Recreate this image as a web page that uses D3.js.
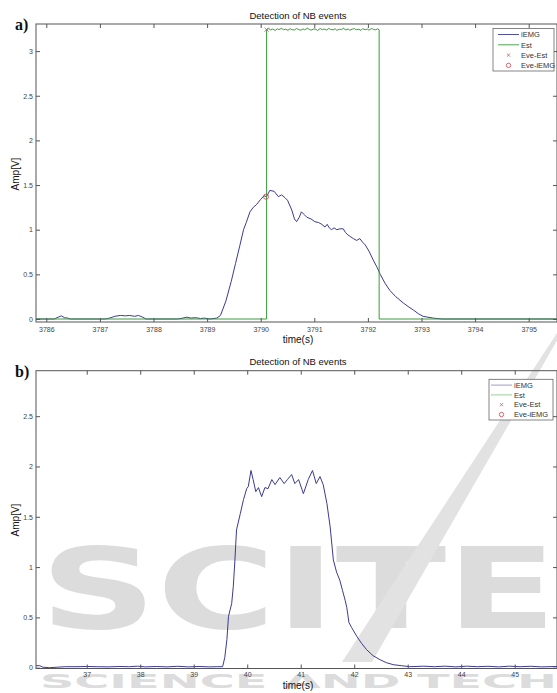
<!DOCTYPE html>
<html>
<head>
<meta charset="utf-8">
<script src="https://cdn.jsdelivr.net/npm/d3@7"></script>
<style>
  html, body { margin: 0; padding: 0; background: #fff; }
  svg { display: block; font-family: "Liberation Sans", Arial, sans-serif; }
</style>
</head>
<body>
<div id="chart"></div>
<script>
// ---- panel a) data ----
const aTime = [3785.81, 3786.15, 3786.22, 3786.28, 3786.34, 3786.40, 3786.45, 3787.10, 3787.18, 3787.28,
  3787.38, 3787.48, 3787.55, 3787.65, 3787.72, 3787.80, 3787.86, 3788.45, 3788.55, 3788.62,
  3788.70, 3788.78, 3788.88, 3788.95, 3789.05, 3789.18, 3789.25, 3789.35, 3789.45, 3789.53,
  3789.61, 3789.68, 3789.73, 3789.80, 3789.86, 3789.92, 3790.00, 3790.06, 3790.11, 3790.17,
  3790.25, 3790.33, 3790.39, 3790.45, 3790.50, 3790.58, 3790.63, 3790.67, 3790.72, 3790.76,
  3790.81, 3790.86, 3790.94, 3791.01, 3791.08, 3791.14, 3791.20, 3791.24, 3791.28, 3791.32,
  3791.37, 3791.42, 3791.48, 3791.54, 3791.58, 3791.63, 3791.68, 3791.73, 3791.79, 3791.85,
  3791.90, 3791.95, 3792.02, 3792.10, 3792.17, 3792.23, 3792.32, 3792.41, 3792.52, 3792.66,
  3792.75, 3792.85, 3792.94, 3793.03, 3793.12, 3793.22, 3793.38, 3795.53];
const aEMG = [0, 0, 0.02, 0.035, 0.015, 0.01, 0, 0, 0.01, 0.03,
  0.04, 0.035, 0.04, 0.03, 0.04, 0.02, 0, 0, 0.01, 0.02,
  0.01, 0.015, 0.005, 0.01, 0, 0.01, 0.04, 0.2, 0.42, 0.62,
  0.82, 1.0, 1.08, 1.2, 1.25, 1.28, 1.34, 1.38, 1.37, 1.44,
  1.43, 1.37, 1.39, 1.36, 1.33, 1.22, 1.12, 1.09, 1.14, 1.2,
  1.17, 1.14, 1.12, 1.09, 1.08, 1.06, 1.03, 1.06, 1.02, 1.0,
  1.02, 1.0, 1.01, 1.01, 0.97, 0.94, 0.92, 0.9, 0.88, 0.9,
  0.86, 0.83, 0.76, 0.66, 0.58, 0.5, 0.4, 0.32, 0.25, 0.18,
  0.14, 0.1, 0.06, 0.03, 0.02, 0.01, 0, 0];

const aEstTime = [3785.81, 3790.11, 3790.11, 3790.15, 3790.19, 3790.22, 3790.27, 3790.31, 3790.34, 3790.39,
  3790.43, 3790.46, 3790.51, 3790.55, 3790.58, 3790.63, 3790.67, 3790.70, 3790.75, 3790.79,
  3790.82, 3790.87, 3790.91, 3790.94, 3790.99, 3791.03, 3791.06, 3791.11, 3791.15, 3791.18,
  3791.23, 3791.27, 3791.30, 3791.35, 3791.39, 3791.42, 3791.47, 3791.51, 3791.54, 3791.59,
  3791.63, 3791.66, 3791.71, 3791.75, 3791.78, 3791.83, 3791.87, 3791.90, 3791.95, 3791.99,
  3792.02, 3792.07, 3792.11, 3792.14, 3792.18, 3792.21, 3792.21, 3795.53];
const aEst = [0, 0, 3.24, 3.252, 3.236, 3.247, 3.232, 3.25, 3.241, 3.255,
  3.238, 3.246, 3.233, 3.251, 3.24, 3.237, 3.253, 3.243, 3.234, 3.249,
  3.239, 3.256, 3.242, 3.235, 3.248, 3.244, 3.231, 3.252, 3.24, 3.247,
  3.236, 3.254, 3.243, 3.238, 3.25, 3.233, 3.245, 3.241, 3.256, 3.237,
  3.249, 3.234, 3.246, 3.252, 3.239, 3.244, 3.232, 3.251, 3.24, 3.247,
  3.235, 3.253, 3.242, 3.238, 3.249, 3.24, 0, 0];

// detected events (panel a)
const aEveEst = [[3790.11, 3.24]];
const aEveEMG = [[3790.10, 1.37]];

const aXTicks = [3786, 3787, 3788, 3789, 3790, 3791, 3792, 3793, 3794, 3795];
const aYTicks = [0, 0.5, 1, 1.5, 2, 2.5, 3];

// ---- panel b) data ----
const bTime = [36.05, 36.12, 36.18, 36.30, 36.45, 36.60, 36.80, 37.00, 37.20, 37.40,
  37.60, 37.80, 37.95, 38.10, 38.30, 38.50, 38.70, 38.90, 39.10, 39.30,
  39.45, 39.54, 39.58, 39.62, 39.65, 39.71, 39.74, 39.77, 39.80, 39.87,
  39.93, 39.99, 40.02, 40.07, 40.11, 40.16, 40.21, 40.27, 40.33, 40.39,
  40.46, 40.52, 40.61, 40.69, 40.75, 40.83, 40.89, 40.96, 41.05, 41.14,
  41.22, 41.29, 41.36, 41.42, 41.49, 41.55, 41.61, 41.67, 41.73, 41.78,
  41.83, 41.86, 41.88, 41.90, 41.95, 42.05, 42.14, 42.23, 42.35, 42.48,
  42.60, 42.73, 42.88, 43.04, 43.30, 43.50, 43.70, 43.90, 44.10, 44.30,
  44.50, 44.70, 44.90, 45.10, 45.30, 45.50, 45.79];
const bEMG = [0.02, 0.02, 0.005, 0, 0.005, 0.01, 0.01, 0.012, 0.01, 0.008,
  0.012, 0.01, 0.015, 0.008, 0.012, 0.008, 0.014, 0.008, 0.012, 0.008,
  0.01, 0.01, 0.1, 0.28, 0.51, 0.64, 0.81, 1.07, 1.37, 1.53,
  1.67, 1.78, 1.8, 1.96, 1.87, 1.75, 1.79, 1.7, 1.79, 1.78,
  1.87, 1.82, 1.89, 1.83, 1.87, 1.92, 1.83, 1.87, 1.73, 1.87,
  1.96, 1.83, 1.9, 1.82, 1.63, 1.4, 1.07, 0.95, 0.87, 0.77,
  0.67, 0.6, 0.53, 0.45, 0.4, 0.31, 0.24, 0.18, 0.12, 0.08,
  0.05, 0.03, 0.02, 0.01, 0.015, 0.01, 0.015, 0.008, 0.015, 0.01,
  0.014, 0.008, 0.015, 0.01, 0.014, 0.008, 0.012];

const bXTicks = [37, 38, 39, 40, 41, 42, 43, 44, 45];
const bYTicks = [0, 0.5, 1, 1.5, 2, 2.5];

const legendNames = ["iEMG", "Est", "Eve-Est", "Eve-iEMG"];

(() => {
  const W = 557, H = 693;
  const C_EMG = "#3b3b8f", C_EST = "#3d9b3d", C_EVE = "#c8464a", C_AX = "#555";

  const svg = d3.select("#chart").append("svg")
    .attr("width", W).attr("height", H).attr("viewBox", `0 0 ${W} ${H}`);

  // publisher watermark, behind everything
  const wm = svg.append("g").attr("fill", "#dcdcdc")
    .style("font-family", "'DejaVu Sans', sans-serif").style("font-weight", "bold");
  wm.append("text").attr("x", 40).attr("y", 628)
    .attr("textLength", 517).attr("lengthAdjust", "spacingAndGlyphs")
    .style("font-size", "112px").text("SCITE");
  wm.append("text").attr("x", 40).attr("y", 688)
    .attr("textLength", 517).attr("lengthAdjust", "spacingAndGlyphs")
    .style("font-size", "20px").text("SCIENCE AND TECH");
  // the slash of the logo
  wm.append("path").attr("d", "M557,333L559,337L372,662L342,662Z").attr("fill", "#e2e2e2");

  function panel(opt) {
    const { left, right, top, bottom } = opt.box;
    const x = d3.scaleLinear().domain(opt.xDomain).range([left, right]);
    const y = d3.scaleLinear().domain(opt.yDomain).range([bottom, top]);
    const g = svg.append("g");

    // series
    const line = d3.line().x(d => x(d[0])).y(d => y(d[1]));
    const clipId = "clip" + opt.tag;
    svg.append("clipPath").attr("id", clipId).append("rect")
      .attr("x", left).attr("y", top).attr("width", right - left).attr("height", bottom - top);
    const plot = g.append("g").attr("clip-path", `url(#${clipId})`);

    plot.append("path").datum(d3.zip(opt.time, opt.emg))
      .attr("fill", "none").attr("stroke", C_EMG).attr("stroke-width", 1).attr("d", line);
    if (opt.estTime) {
      plot.append("path").datum(d3.zip(opt.estTime, opt.est))
        .attr("fill", "none").attr("stroke", C_EST).attr("stroke-width", 1).attr("d", line);
    }
    (opt.eveEst || []).forEach(d => {
      const cx = x(d[0]), cy = y(d[1]);
      plot.append("path").attr("d", `M${cx - 2},${cy - 2}L${cx + 2},${cy + 2}M${cx - 2},${cy + 2}L${cx + 2},${cy - 2}`)
        .attr("stroke", C_EVE).attr("stroke-width", 0.8);
    });
    (opt.eveEMG || []).forEach(d => {
      plot.append("circle").attr("cx", x(d[0])).attr("cy", y(d[1])).attr("r", 2.6)
        .attr("fill", "none").attr("stroke", C_EVE).attr("stroke-width", 0.8);
    });

    // axes: MATLAB style box with inward ticks on all sides
    const styleAxis = sel => {
      sel.select(".domain").remove();
      sel.selectAll("line").attr("stroke", C_AX);
      sel.selectAll("text").attr("fill", "#444").style("font-size", "7px");
    };
    g.append("g").attr("transform", `translate(0,${bottom})`)
      .call(d3.axisBottom(x).tickValues(opt.xTicks).tickSizeInner(-4).tickSizeOuter(0).tickPadding(opt.xPad).tickFormat(d3.format("d")))
      .call(styleAxis);
    g.append("g").attr("transform", `translate(0,${top})`)
      .call(d3.axisTop(x).tickValues(opt.xTicks).tickSizeInner(-4).tickSizeOuter(0).tickFormat(""))
      .call(styleAxis);
    g.append("g").attr("transform", `translate(${left},0)`)
      .call(d3.axisLeft(y).tickValues(opt.yTicks).tickSizeInner(-4).tickSizeOuter(0).tickPadding(3).tickFormat(d3.format("~g")))
      .call(styleAxis);
    g.append("g").attr("transform", `translate(${right},0)`)
      .call(d3.axisRight(y).tickValues(opt.yTicks).tickSizeInner(-4).tickSizeOuter(0).tickFormat(""))
      .call(styleAxis);
    g.append("rect").attr("x", left).attr("y", top).attr("width", right - left).attr("height", bottom - top)
      .attr("fill", "none").attr("stroke", C_AX).attr("stroke-width", 1);

    // titles and labels
    g.append("text").attr("x", 298).attr("y", top - 5.5).attr("text-anchor", "middle")
      .style("font-size", "9.5px").attr("fill", "#111").text("Detection of NB events");
    g.append("text").attr("x", 298).attr("y", bottom + 20.5).attr("text-anchor", "middle")
      .style("font-size", "10px").attr("fill", "#111").text("time(s)");
    g.append("text").attr("transform", `translate(19,${opt.yLabelAt}) rotate(-90)`).attr("text-anchor", "middle")
      .style("font-size", "10px").attr("fill", "#111").text("Amp[V]");
    g.append("text").attr("x", 15).attr("y", top + 6)
      .style("font-family", "'Liberation Serif', 'DejaVu Serif', serif").style("font-weight", "bold")
      .style("font-size", "16px").attr("fill", "#111").text(opt.tag + ")");

    // legend
    const L = opt.legend;
    const lg = g.append("g").attr("transform", `translate(${L.x},${L.y})`);
    lg.append("rect").attr("width", L.w).attr("height", L.h)
      .attr("fill", "#fff").attr("stroke", "#666").attr("stroke-width", 0.8);
    legendNames.forEach((name, i) => {
      const ey = L.first + i * L.step;
      const mid = L.lineX + 10.5;
      if (i === 0 || i === 1) {
        lg.append("line").attr("x1", L.lineX).attr("x2", L.lineX + 21).attr("y1", ey).attr("y2", ey)
          .attr("stroke", i === 0 ? C_EMG : C_EST).attr("stroke-width", 0.9).attr("opacity", L.fade);
      } else if (i === 2) {
        lg.append("path").attr("d", `M${mid - 1.6},${ey - 1.6}L${mid + 1.6},${ey + 1.6}M${mid - 1.6},${ey + 1.6}L${mid + 1.6},${ey - 1.6}`)
          .attr("stroke", C_EVE).attr("stroke-width", 0.7);
      } else {
        lg.append("circle").attr("cx", mid).attr("cy", ey).attr("r", 2.2)
          .attr("fill", "none").attr("stroke", C_EVE).attr("stroke-width", 0.8);
      }
      lg.append("text").attr("x", L.lineX + 23).attr("y", ey + 2.7)
        .style("font-size", "7.5px").attr("fill", "#333").text(name);
    });
  }

  panel({
    tag: "a",
    box: { left: 36, right: 557, top: 24, bottom: 322 },
    xDomain: [3785.808, 3795.528], yDomain: [-0.0336, 3.3035],
    xTicks: aXTicks, yTicks: aYTicks, xPad: 5,
    time: aTime, emg: aEMG, estTime: aEstTime, est: aEst,
    eveEst: aEveEst, eveEMG: aEveEMG,
    yLabelAt: 174,
    legend: { x: 493, y: 28.5, w: 61, h: 42.5, first: 6, step: 10.3, lineX: 5, fade: 1 }
  });

  panel({
    tag: "b",
    box: { left: 36, right: 557, top: 370.7, bottom: 668.5 },
    xDomain: [36.052, 45.79], yDomain: [-0.008, 2.952],
    xTicks: bXTicks, yTicks: bYTicks, xPad: 3.5,
    time: bTime, emg: bEMG,
    yLabelAt: 520,
    legend: { x: 489, y: 379.3, w: 64, h: 40.7, first: 5.8, step: 9.8, lineX: 2, fade: 0.55 }
  });
})();
</script>
</body>
</html>
